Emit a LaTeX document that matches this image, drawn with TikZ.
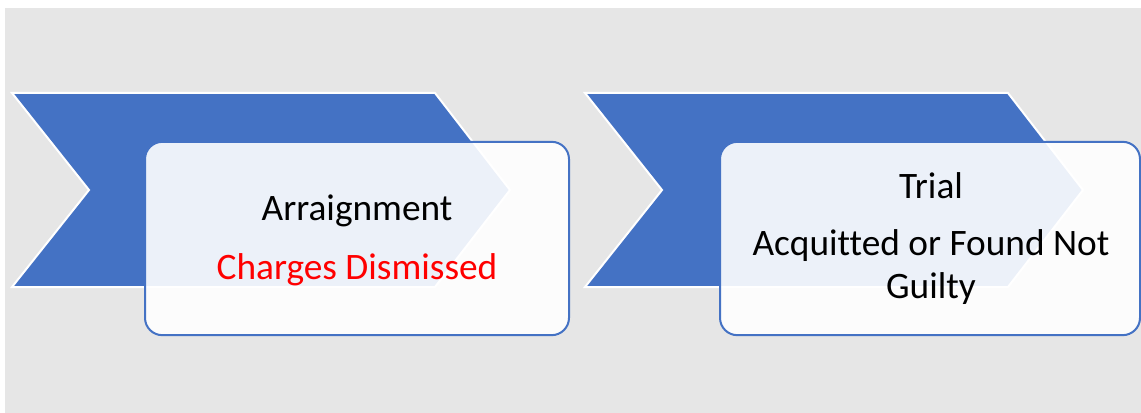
\documentclass[tikz,border=0pt]{standalone}
\usepackage{fontspec}
\setmainfont[Ligatures=NoCommon]{Carlito}
\definecolor{chevblue}{HTML}{4472C4}
\definecolor{backgray}{HTML}{E6E6E6}
\definecolor{chargered}{HTML}{FF0000}
\tikzset{
  chevron/.style={fill=chevblue,draw=white,line width=1.5pt,line join=miter},
  stagebox/.style={draw=chevblue,line width=1.5pt,fill=white,fill opacity=0.9,
    rounded corners=13pt,minimum width=318pt,minimum height=145pt,inner sep=0pt},
  stagetext/.style={anchor=base,font=\fontsize{28}{33}\selectfont,inner sep=0pt}
}
\begin{document}
\begin{tikzpicture}[x=0.75pt,y=-0.75pt]
                  \useasboundingbox (0,0) rectangle (1141,413);
                  \fill[backgray] (5,8) rectangle (1141,413);

                  % chevrons
                  \foreach \dx in {0,573}
                  \draw[chevron] (12+\dx,93) -- (435+\dx,93) -- (510+\dx,190)
                    -- (435+\dx,287) -- (12+\dx,287) -- (89+\dx,190) -- cycle;

                  % boxes on top
                  \node[stagebox] (arraign) at (357,238.5) {};
                  \node[stagebox,minimum width=315pt] (trial) at (930,238.5) {};

                  % Arraignment stage
                  \node[stagetext] (arraigntitle) at (357,221) {Arraignment};
                  \node[stagetext,text=chargered] (dismissed) at (357,279) {Charges Dismissed};

                  % Trial stage
                  \node[stagetext] (trialtitle) at (931,199) {Trial};
                  \node[stagetext] (acquitted) at (931,256) {Acquitted or Found Not};
                  \node[stagetext] (guilty) at (931,298) {Guilty};
              \end{tikzpicture}
\end{document}
